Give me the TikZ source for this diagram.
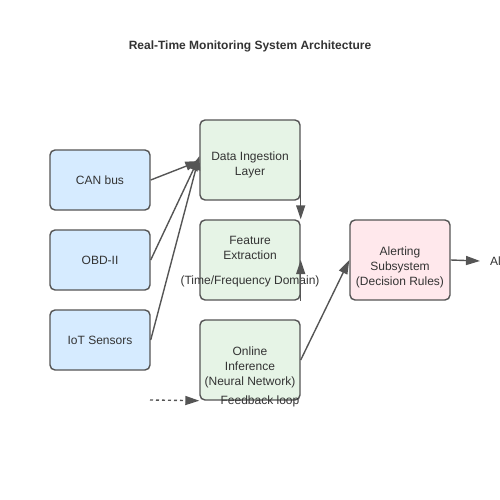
\documentclass[tikz,border=0pt]{standalone}
\usepackage{fontspec}
\setmainfont{Liberation Sans}
\usetikzlibrary{arrows.meta}
\definecolor{txt}{HTML}{333333}
\definecolor{edge}{HTML}{555555}
\definecolor{inblue}{HTML}{D6EBFF}
\definecolor{procgreen}{HTML}{E6F4E6}
\definecolor{alertpink}{HTML}{FFE8EC}
\begin{document}
\begin{tikzpicture}[x=1pt,y=-1pt,
  box/.style={draw=edge,line width=1.4pt,rounded corners=5pt,minimum width=100pt,minimum height=60pt,inner sep=0pt,align=center,text=txt,font=\fontsize{12}{15}\selectfont},
  inbox/.style={box,fill=inblue},
  procbox/.style={box,fill=procgreen,minimum height=80pt},
  alertbox/.style={box,fill=alertpink,minimum height=80pt},
  conn/.style={draw=edge,line width=1.4pt,-{Triangle[length=14pt,width=9pt]}},
  lbl/.style={text=txt,font=\fontsize{12}{15}\selectfont,inner sep=0pt,align=center}]
\useasboundingbox (0,0) rectangle (500,500);
\node[font=\bfseries\fontsize{12}{14}\selectfont,text=txt] (title) at (250,46) {Real-Time Monitoring System Architecture};
\node[inbox] (can) at (100,180) {CAN bus};
\node[inbox] (obd) at (100,260) {OBD-II};
\node[inbox] (iot) at (100,340) {IoT Sensors};
\node[procbox] (ing) at (250,160) {};
\node[lbl] (ingt) at (250,165) {Data Ingestion\\Layer};
\node[procbox] (fe) at (250,260) {};
\node[lbl] (fet) at (250,248) {Feature\\Extraction};
\node[lbl] (fed) at (250,281) {(Time/Frequency Domain)};
\node[procbox] (oi) at (250,360) {};
\node[lbl] (oit) at (250,367) {Online\\Inference\\(Neural Network)};
\node[alertbox] (al) at (400,260) {};
\node[lbl] (alt2) at (400,267) {Alerting\\Subsystem\\(Decision Rules)};
\node[lbl,anchor=west] (alt) at (490,261) {Alerts};
\coordinate (fbs) at (150,400);
\node[lbl] (fbl) at (260,401) {Feedback loop};
\draw[conn] (can.east) -- ([yshift=-1pt]ing.west);
\draw[conn] (obd.east) -- ([yshift=3pt]ing.west);
\draw[conn] (iot.east) -- ([yshift=4pt]ing.west);
\draw[conn] (ing.east) -- (fe.north east);
\draw[conn] (fe.south east) -- (fe.east);
\draw[conn] (oi.east) -- (al.west);
\draw[conn] (al.east) -- ([xshift=-10pt]alt.west);
\draw[conn,dashed] (fbs) -- (oi.south west);
\end{tikzpicture}
\end{document}
